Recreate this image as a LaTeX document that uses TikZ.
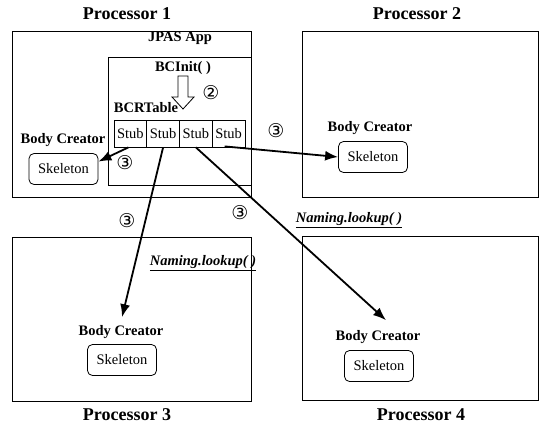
\documentclass[tikz,border=0pt]{standalone}
\usepackage{fontspec}
\setmainfont{Liberation Serif}
\newfontfamily\circfont{DejaVu Sans}
\usetikzlibrary{arrows.meta,calc}

\tikzset{
  title/.style={font=\fontsize{18}{20}\selectfont\bfseries, inner sep=0},
  lbl/.style={font=\fontsize{14.5}{16}\selectfont\bfseries, inner sep=0},
  lookup/.style={font=\fontsize{14.5}{16}\selectfont\bfseries\itshape, inner sep=0},
  procbox/.style={draw, line width=0.9pt, inner sep=0},
  stubcell/.style={draw, line width=0.8pt, minimum width=32.75, minimum height=27, inner sep=0,
    font=\fontsize{14.5}{16}\selectfont},
  skel/.style={draw, line width=0.8pt, rounded corners=5pt, minimum width=69, minimum height=31,
    inner sep=0, font=\fontsize{14.5}{16}\selectfont},
  num/.style={font=\circfont\fontsize{19}{20}\selectfont, inner sep=0},
  conn/.style={line width=1.8pt, -{Latex[length=13pt,width=10pt]}},
}

\begin{document}
\begin{tikzpicture}[x=1pt, y=-1pt]
\useasboundingbox (0,0) rectangle (543,428);

% processor frames
\node[procbox, minimum width=239, minimum height=166] (p1) at (131.5,114) {};
\node[procbox, minimum width=236, minimum height=166] (p2) at (420,114) {};
\node[procbox, minimum width=239, minimum height=164] (p3) at (131.5,319) {};
\node[procbox, minimum width=236, minimum height=164] (p4) at (420,318) {};

% processor titles
\node[title] (t1) at (127,14) {Processor 1};
\node[title] (t2) at (417,14) {Processor 2};
\node[title] (t3) at (127,415) {Processor 3};
\node[title] (t4) at (421,415) {Processor 4};

% application area inside processor 1
\node[lbl] (app) at (180,38) {JPAS App};
\draw[line width=0.8pt] (108,185) -- (108,57) -- (250.5,57);
\draw[line width=0.8pt] (108,185) -- (250.5,185);
\node[lbl] (init) at (183,68) {BCInit( )};

% hollow arrow from BCInit() to the table
\draw[line width=0.8pt, fill=white]
  (178,76) -- (188,76) -- (188,97) -- (194,97) -- (183,109) -- (172,97) -- (178,97) -- cycle;
\node[num] (n2) at (211,93) {②};

\node[lbl] (table) at (146,108) {BCRTable};
\node[stubcell] (s1) at (130.4,133.5) {Stub};
\node[stubcell] (s2) at (163.1,133.5) {Stub};
\node[stubcell] (s3) at (195.9,133.5) {Stub};
\node[stubcell] (s4) at (228.6,133.5) {Stub};

% body creators with their skeletons
\node[lbl] (bc1) at (63,140) {Body Creator};
\node[skel] (sk1) at (63.5,169) {Skeleton};
\node[lbl] (bc2) at (370,128) {Body Creator};
\node[skel] (sk2) at (373,157) {Skeleton};
\node[lbl] (bc3) at (121,332) {Body Creator};
\node[skel] (sk3) at (122,360) {Skeleton};
\node[lbl] (bc4) at (378,337) {Body Creator};
\node[skel] (sk4) at (379,366) {Skeleton};

% remote lookups
\node[lookup] (lk3) at (203,263) {\underline{Naming.lookup( )}};
\node[lookup] (lk4) at (349,220) {\underline{Naming.lookup( )}};

% step 3 markers
\node[num] (n3a) at (125,163) {③};
\node[num] (n3b) at (276,131) {③};
\node[num] (n3c) at (127,221) {③};
\node[num] (n3d) at (240,213) {③};

% stub to skeleton connections
\draw[conn] ($(s1.south)+(-2,0)$) -- (sk1.12);
\draw[conn] ($(s4.south)+(-4,-1)$) -- (sk2.west);
\draw[conn] (s2.south) -- ($(bc3.north)+(1,-8)$);
\draw[conn] (s3.south) -- ($(bc4.north)+(8,-10)$);
\end{tikzpicture}
\end{document}
